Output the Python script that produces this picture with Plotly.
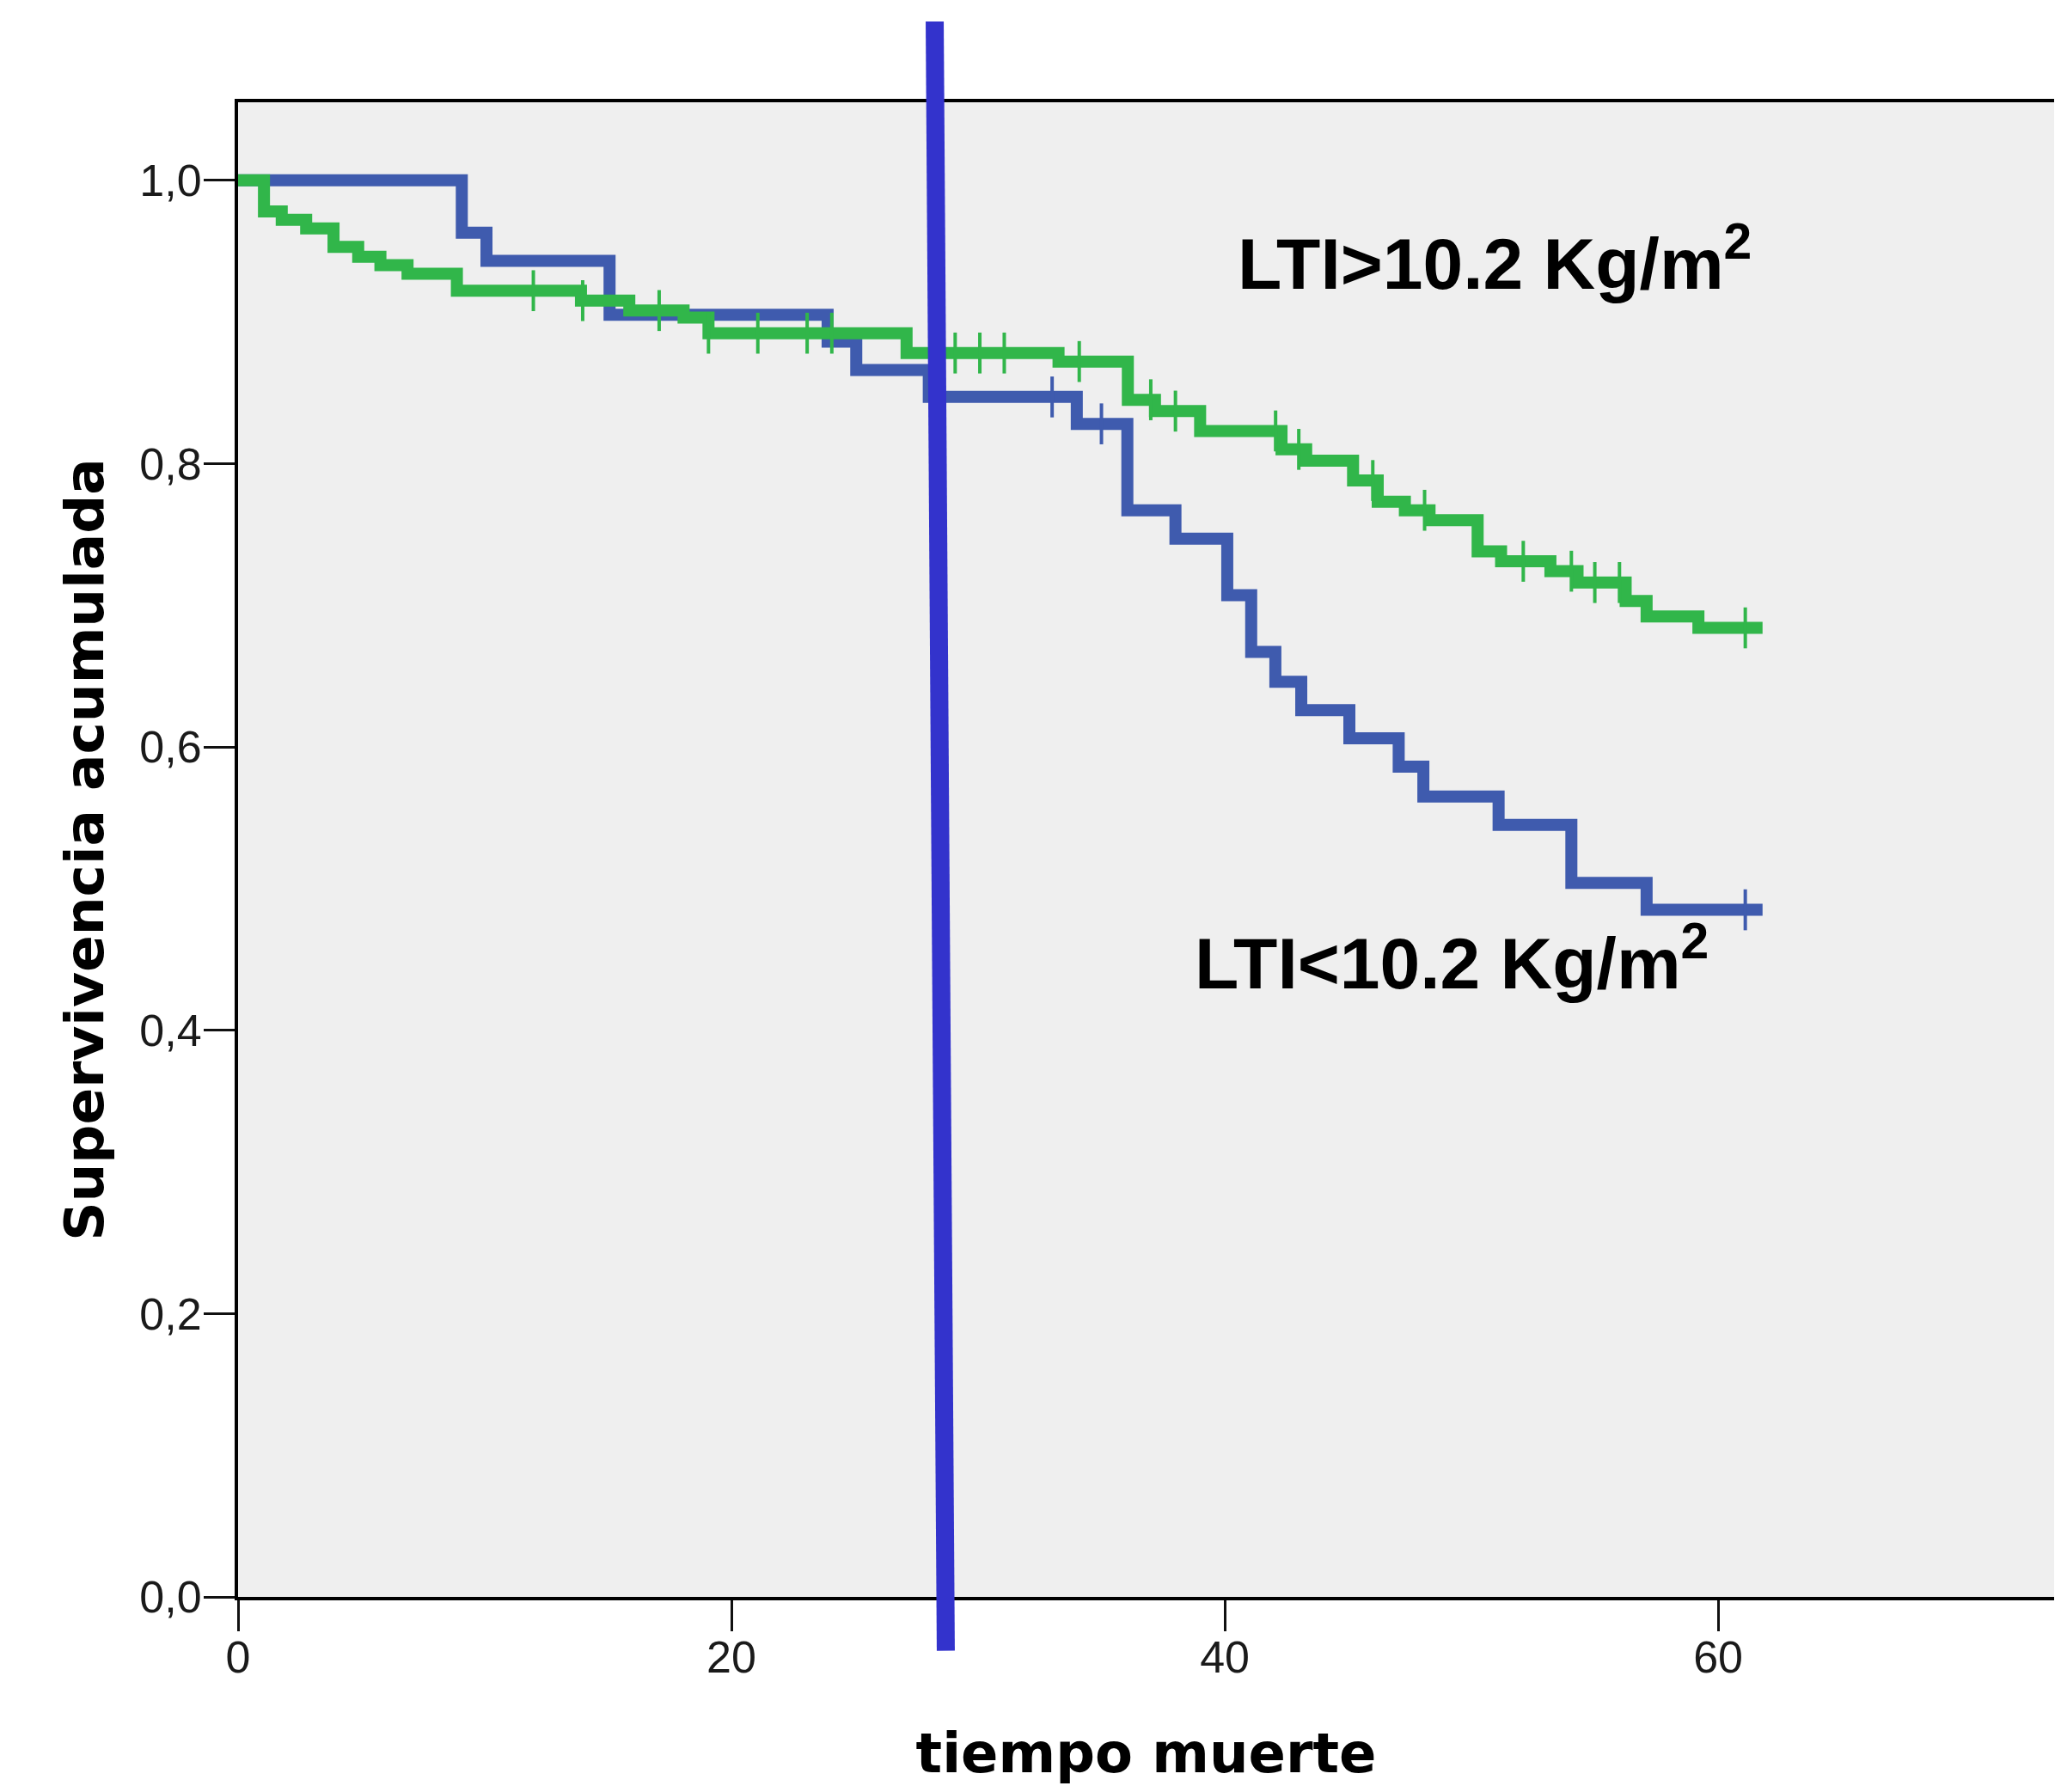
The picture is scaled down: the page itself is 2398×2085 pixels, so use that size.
import plotly.graph_objects as go

# Kaplan-Meier step data (time, cumulative survival)
blue_t = [0, 9.07, 10.07, 15.06, 23.9, 25.06, 28.0, 34.0, 36.05, 38.0, 40.1, 41.07,
          42.05, 43.1, 45.05, 47.05, 48.05, 51.1, 54.05, 57.1, 61.8]
blue_s = [1.0, 0.963, 0.943, 0.905, 0.886, 0.866, 0.847, 0.828, 0.767, 0.747, 0.707, 0.667,
          0.646, 0.626, 0.606, 0.586, 0.565, 0.545, 0.504, 0.485, 0.485]
blue_cens = [33.0, 35.0, 61.1]

green_t = [0, 1.05, 1.77, 2.76, 3.87, 4.87, 5.77, 6.87, 8.87, 13.9, 15.86, 18.06, 19.07,
           27.1, 33.26, 36.07, 37.17, 39.0, 42.3, 43.3, 45.2, 46.2, 47.3, 48.3, 50.25,
           51.2, 53.2, 54.3, 56.25, 57.1, 59.2, 61.8]
green_s = [1.0, 0.978, 0.972, 0.966, 0.953, 0.946, 0.940, 0.934, 0.922, 0.915, 0.908, 0.903,
           0.892, 0.878, 0.872, 0.845, 0.837, 0.823, 0.810, 0.802, 0.788, 0.773, 0.767,
           0.760, 0.738, 0.731, 0.724, 0.716, 0.703, 0.692, 0.684, 0.684]
green_cens = [11.97, 13.97, 17.07, 19.07, 21.07, 23.07, 24.07, 29.07, 30.07, 31.06, 34.1,
              37.0, 38.0, 42.06, 43.0, 46.0, 48.1, 52.1, 54.05, 55.0, 56.0, 61.1]

x_ticks = [0, 20, 40, 60]
y_ticks = [0.0, 0.2, 0.4, 0.6, 0.8, 1.0]
y_ticklabels = ["0,0", "0,2", "0,4", "0,6", "0,8", "1,0"]

label_hi = "LTI&gt;10.2 Kg/m<sup>2</sup>"
label_lo = "LTI&lt;10.2 Kg/m<sup>2</sup>"

# overlay marker line (data units): x at top/bottom, y extent
mark_x_top, mark_x_bot = 28.24, 28.69
mark_y_top, mark_y_bot = 1.112, -0.038

X_RANGE = [0, 73.62]
Y_RANGE = [0, 1.055]

BLUE = "#3F5BAE"
GREEN = "#31B64A"


def step_val(ts, ss, t):
    v = ss[0]
    for ti, si in zip(ts, ss):
        if ti <= t:
            v = si
    return v


fig = go.Figure()
for ts, ss, cens, col in [(blue_t, blue_s, blue_cens, BLUE), (green_t, green_s, green_cens, GREEN)]:
    fig.add_trace(go.Scatter(x=ts, y=ss, mode="lines", line=dict(shape="hv", color=col, width=14),
                             showlegend=False, hoverinfo="skip"))
    fig.add_trace(go.Scatter(x=cens, y=[step_val(ts, ss, c) for c in cens], mode="markers",
                             marker=dict(symbol="line-ns", size=34, line=dict(color=col, width=4)),
                             showlegend=False, hoverinfo="skip"))


def to_px(v, r):
    return (v - r[0]) / (r[1] - r[0])


fig.add_shape(type="line", xref="paper", yref="paper",
              x0=to_px(mark_x_top, X_RANGE), y0=to_px(mark_y_top, Y_RANGE),
              x1=to_px(mark_x_bot, X_RANGE), y1=to_px(mark_y_bot, Y_RANGE),
              line=dict(color="#3333CC", width=21))

fig.add_annotation(x=40.45, y=0.9445, xref="x", yref="y", text=label_hi, showarrow=False,
                   xanchor="left", yanchor="middle",
                   font=dict(family="Liberation Sans", size=84, color="black", weight="bold"))
fig.add_annotation(x=38.72, y=0.4505, xref="x", yref="y", text=label_lo, showarrow=False,
                   xanchor="left", yanchor="middle",
                   font=dict(family="Liberation Sans", size=84, color="black", weight="bold"))

axis_common = dict(showline=True, linecolor="black", linewidth=4, mirror=True,
                   ticks="outside", ticklen=36, tickwidth=3, tickcolor="#111111",
                   showgrid=False, zeroline=False, automargin=False,
                   tickfont=dict(family="Liberation Sans", size=52, color="#1a1a1a"))

fig.update_layout(
    width=2382, height=2069,
    margin=dict(l=269, r=0, t=111, b=219),
    paper_bgcolor="white", plot_bgcolor="#EFEFEF",
    xaxis=dict(range=X_RANGE, tickvals=x_ticks, ticklabelstandoff=-14, **axis_common,
               title=dict(text="tiempo muerte", standoff=64,
                          font=dict(family="DejaVu Sans", size=64, color="black", weight="bold"))),
    yaxis=dict(range=Y_RANGE, tickvals=y_ticks, ticktext=y_ticklabels, ticklabelstandoff=-8,
               **axis_common,
               title=dict(text="Supervivencia acumulada", standoff=22,
                          font=dict(family="DejaVu Sans", size=63, color="black", weight="bold"))),
)

fig.write_html("out.html")
